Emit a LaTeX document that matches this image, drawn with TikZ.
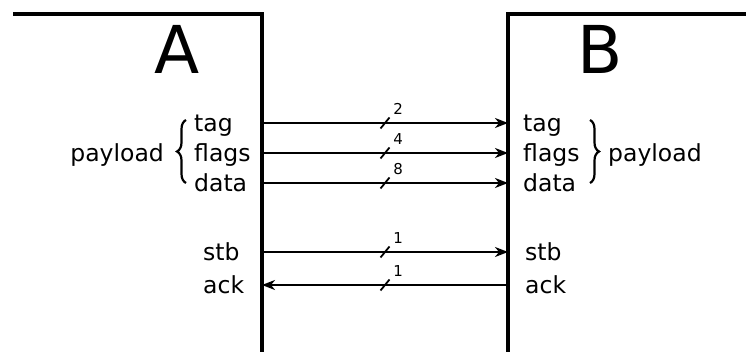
\documentclass[tikz,border=0pt]{standalone}
\usepackage{fontspec}
\setmainfont{DejaVu Sans}
\usetikzlibrary{arrows.meta,decorations.pathreplacing,calc}

\tikzset{
  unit/.style={line width=3.6pt},
  sig/.style={line width=2pt,-{Stealth[length=13pt,width=10pt,inset=4pt]}},
  tick/.style={line width=1.8pt},
  bits/.style={anchor=south west,inner sep=0pt,xshift=3pt,yshift=2pt,
    font=\fontsize{15}{18}\selectfont},
  port/.style={inner sep=0pt,font=\fontsize{23.5}{28}\selectfont},
  title/.style={anchor=base,inner sep=0pt,font=\fontsize{66}{70}\selectfont},
  curly/.style={line width=2.2pt,decorate,decoration={brace,amplitude=9pt}}
}

\begin{document}
\begin{tikzpicture}[x=1pt,y=-1pt]
\useasboundingbox (0,0) rectangle (746,352);

% the two units
\draw[unit] (13,14) -| (262,352);
\draw[unit] (746,14) -| (508,352);
\node (A) [title] at (177,74) {A};
\node (B) [title] at (600,74) {B};

% ports: name / row / label x on A / label x on B
\foreach \s/\y/\xa/\xb in {tag/123/194/523,flags/153/194/523,data/183/194/523,
                           stb/252/203/525,ack/285/203/525} {
  \coordinate (A-\s) at (262,\y);
  \coordinate (B-\s) at (508,\y);
  \node (lA-\s) [port,anchor=base west] at (\xa,\y+9) {\s};
  \node (lB-\s) [port,anchor=base west] at (\xb,\y+9) {\s};
}

% buses with their widths
\foreach \s/\w/\from/\to in {tag/2/A/B,flags/4/A/B,data/8/A/B,stb/1/A/B,ack/1/B/A} {
  \draw[sig] (\from-\s) -- coordinate[pos=.5] (m-\s) (\to-\s);
  \draw[tick] ($(m-\s)+(-4.5,5.5)$) -- ($(m-\s)+(4.5,-5.5)$) node[bits] {\w};
}

% payload groups
\draw[curly] (186,183) -- (186,120);
\node (pA) [port,anchor=base east] at (164,162) {payload};
\draw[curly] (590,120) -- (590,183);
\node (pB) [port,anchor=base west] at (608,162) {payload};
\end{tikzpicture}
\end{document}
